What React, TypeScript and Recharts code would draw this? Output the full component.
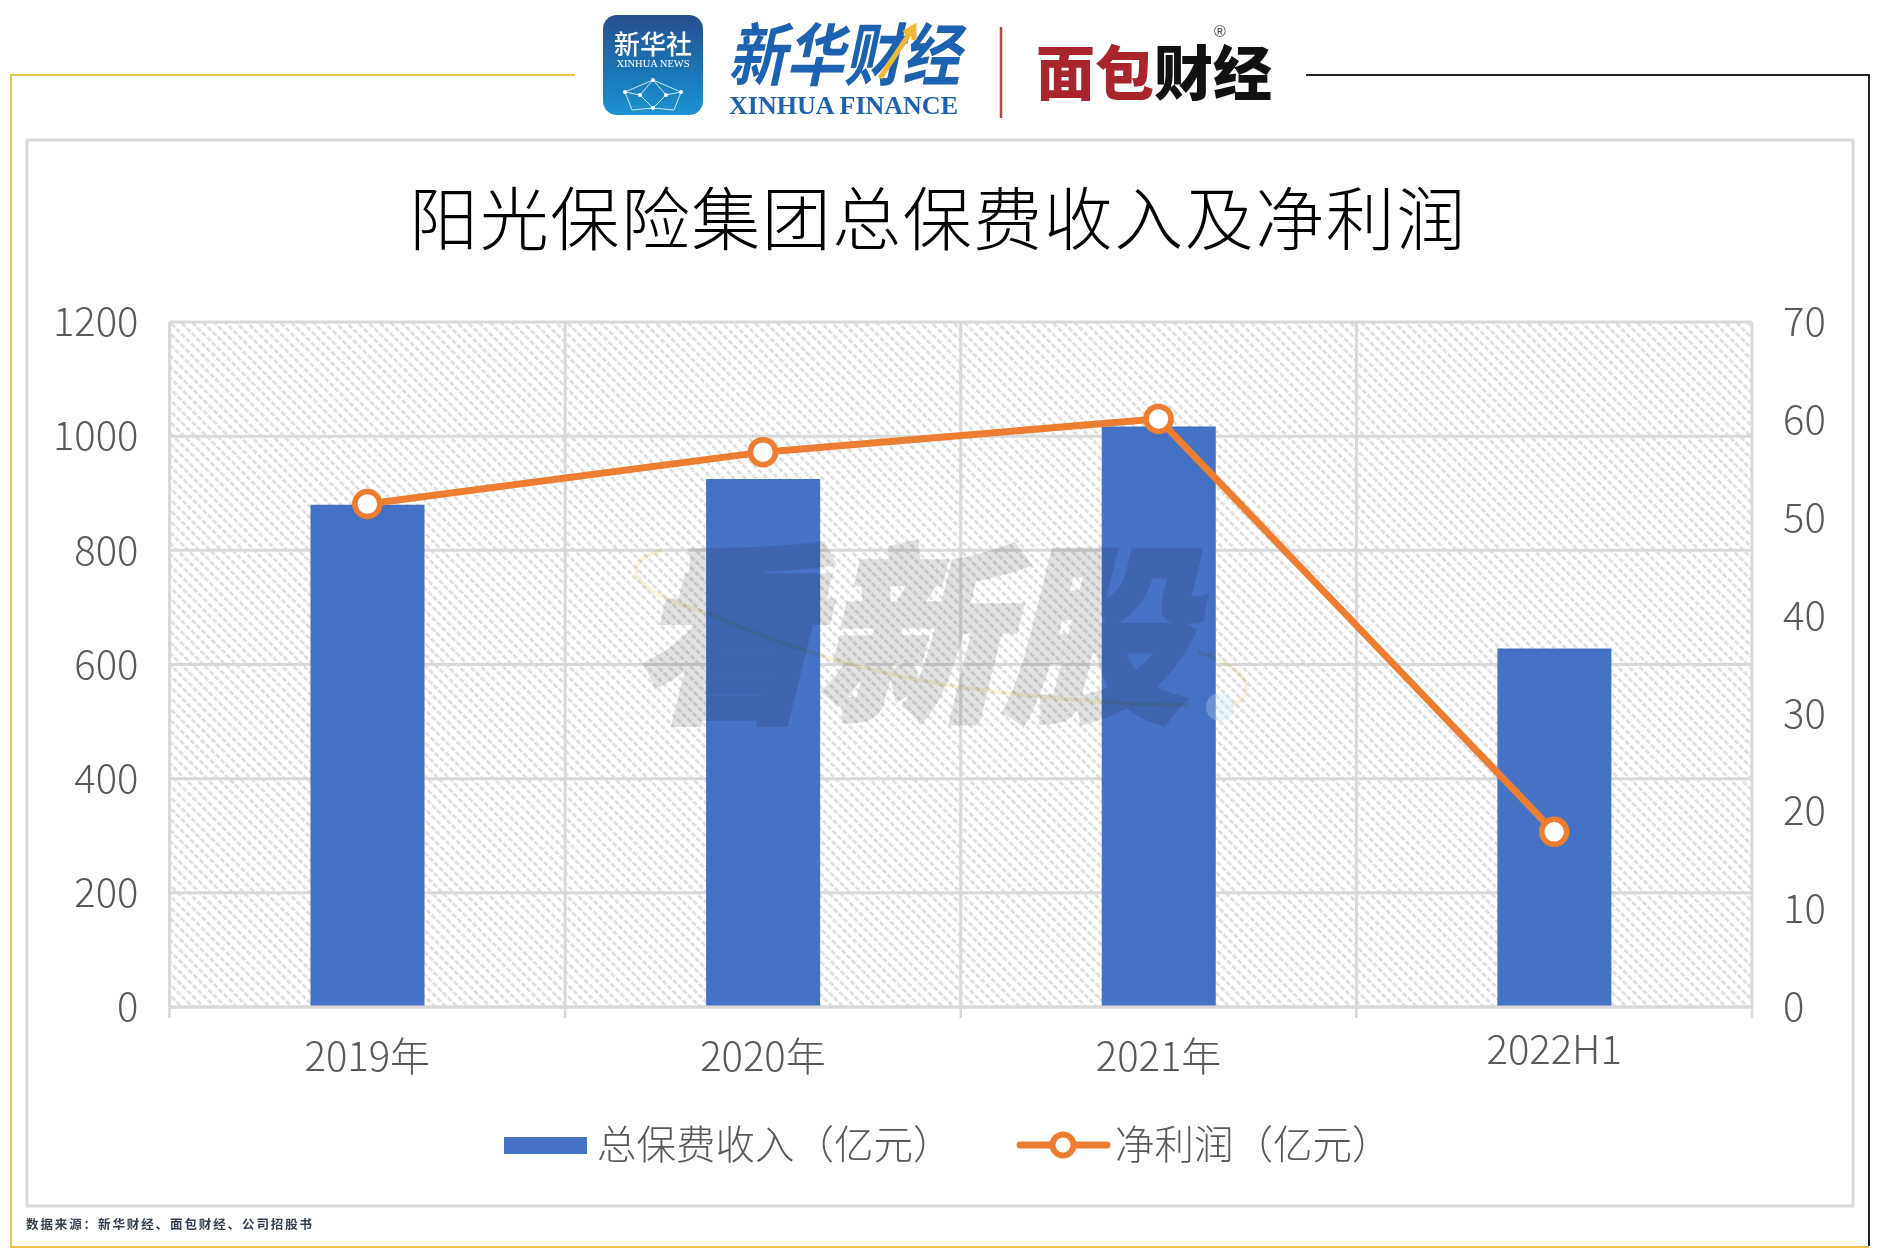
import React from "react";
import { ComposedChart, Bar, Line, XAxis, YAxis, CartesianGrid, Legend } from "recharts";

const categories = ["2019年", "2020年", "2021年", "2022H1"];
const premiumValues = [880, 925, 1017, 628];
const profitValues = [51.4, 56.7, 60.1, 17.9];
const leftTicks = [0, 200, 400, 600, 800, 1000, 1200];
const rightTicks = [0, 10, 20, 30, 40, 50, 60, 70];
const premiumName = "总保费收入（亿元）";
const profitName = "净利润（亿元）";
const titleText = "阳光保险集团总保费收入及净利润";
const sourceText = "数据来源：新华财经、面包财经、公司招股书";

const rows = categories.map((c, i) => ({ name: c, premium: premiumValues[i], profit: profitValues[i] }));

const W = 1880, H = 1258;
const PLOT_L = 169.5, PLOT_R = 1752, PLOT_T = 322, PLOT_B = 1007;
const BAND = (PLOT_R - PLOT_L) / categories.length;
const FONT = '"Noto Sans CJK SC", "Noto Sans", sans-serif';
const GREY = "#d9d9d9";
const TEXT = "#595959";
const BLUE = "#4472c4";
const ORANGE = "#ed7d31";

function XTick(props: any) {
  const { x, payload, index } = props;
  const isYear = String(payload.value).includes("年");
  return (
    <g>
      <line x1={x - BAND / 2} x2={x - BAND / 2} y1={PLOT_B} y2={PLOT_B + 11} stroke={GREY} strokeWidth={2.5} />
      {index === categories.length - 1 && (
        <line x1={x + BAND / 2} x2={x + BAND / 2} y1={PLOT_B} y2={PLOT_B + 11} stroke={GREY} strokeWidth={2.5} />
      )}
      <text x={x} y={isYear ? 1071 : 1064} textAnchor="middle" fontSize={40} fontFamily={FONT} fontWeight={300} fill={TEXT}>
        {payload.value}
      </text>
    </g>
  );
}

function LegendContent(props: any) {
  const items = props.payload || [];
  const bar = items.find((p: any) => p.dataKey === "premium");
  const line = items.find((p: any) => p.dataKey === "profit");
  const textStyle = { position: "absolute", top: -3, lineHeight: "50px", fontSize: 39.5, fontWeight: 300, fontFamily: FONT, color: TEXT, whiteSpace: "nowrap" } as any;
  return (
    <div style={{ position: "relative", width: W, height: 50 }}>
      <div style={{ position: "absolute", left: 504, top: 17, width: 83, height: 17, background: BLUE }} />
      <span style={{ ...textStyle, left: 597 }}>{bar ? bar.value : premiumName}</span>
      <svg style={{ position: "absolute", left: 1010, top: 0 }} width={110} height={50}>
        <line x1={10} x2={97} y1={25} y2={25} stroke={ORANGE} strokeWidth={7} strokeLinecap="round" />
        <circle cx={53} cy={25} r={10.5} fill="#fff" stroke={ORANGE} strokeWidth={6} />
      </svg>
      <span style={{ ...textStyle, left: 1115 }}>{line ? line.value : profitName}</span>
    </div>
  );
}

function Backdrop() {
  return (
    <svg width={W} height={H} style={{ position: "absolute", left: 0, top: 0 }}>
      <defs>
        <linearGradient id="badge" x1="0" y1="0" x2="0" y2="1">
          <stop offset="0" stopColor="#27508f" />
          <stop offset="0.6" stopColor="#1b78b8" />
          <stop offset="1" stopColor="#1c93d2" />
        </linearGradient>
      </defs>
      <polyline points="575,75 11,75 11,1247 1869,1247" fill="none" stroke="#efc24a" strokeWidth={2} />
      <polyline points="1306,75 1869,75 1869,1246" fill="none" stroke="#222" strokeWidth={2} />
      <rect x={27} y={140} width={1826} height={1066} fill="#fff" stroke={GREY} strokeWidth={3} />

      <rect x={603} y={15} width={100} height={100} rx={14} fill="url(#badge)" />
      <text x={653} y={54} textAnchor="middle" fontSize={26} fontFamily={FONT} fontWeight={500} fill="#fff">新华社</text>
      <text x={653} y={67} textAnchor="middle" fontSize={10.5} fontFamily='"Liberation Serif", serif' fill="#fff">XINHUA NEWS</text>
      <g stroke="#cfeaf8" strokeWidth={1} fill="none">
        <path d="M653 80 L625 92 L632 110 M653 80 L681 92 L674 110 M653 80 L640 95 L653 108 L666 95 L653 80 M625 92 L640 95 M681 92 L666 95 M632 110 L653 108 L674 110" />
      </g>
      <g fill="#fff">
        <circle cx={653} cy={80} r={2} /><circle cx={640} cy={95} r={2} /><circle cx={666} cy={95} r={2} />
        <circle cx={653} cy={108} r={2} /><circle cx={625} cy={92} r={2} /><circle cx={681} cy={92} r={2} />
      </g>

      <text x={728} y={80} fontSize={68} fontStyle="italic" fontFamily={FONT} fontWeight={700} fill="#1c62b0" textLength={232} lengthAdjust="spacingAndGlyphs">新华财经</text>
      <path d="M880 78 L912 30 M904 33 L914 27 L914 40" fill="none" stroke="#f0b93a" strokeWidth={5} />
      <text x={729} y={114} fontSize={26} fontFamily='"Liberation Serif", serif' fontWeight={700} fill="#1c62b0" textLength={229} lengthAdjust="spacingAndGlyphs">XINHUA FINANCE</text>
      <line x1={1001} x2={1001} y1={27} y2={118} stroke="#b5473f" strokeWidth={2.5} />
      <text x={1036} y={95} fontSize={59} fontFamily={FONT} fontWeight={900}>
        <tspan fill="#a8262b">面包</tspan>
        <tspan fill="#111">财经</tspan>
      </text>
      <text x={1220} y={37} textAnchor="middle" fontSize={16} fontFamily='"Liberation Sans", sans-serif' fill="#444">®</text>

      <text x={938} y={245} textAnchor="middle" fontSize={69} letterSpacing={1.5} fontFamily={FONT} fontWeight={300} fill="#000">{titleText}</text>
      <text x={26} y={1229} fontSize={12.5} letterSpacing={1.9} fontFamily={FONT} fontWeight={700} fill="#333f50">{sourceText}</text>
    </svg>
  );
}

function Watermark() {
  return (
    <svg width={W} height={H} style={{ position: "absolute", left: 0, top: 0, pointerEvents: "none" }}>
      <g opacity={0.11}>
        <text
          x={0}
          y={0}
          transform="translate(632 706) skewX(-14)"
          fontSize={190}
          fontWeight={900}
          fontFamily={FONT}
          fill="#000"
          stroke="#000"
          strokeWidth={5}
          textLength={555}
          lengthAdjust="spacingAndGlyphs"
        >
          看新股
        </text>
      </g>
      <g style={{ mixBlendMode: "multiply" }} opacity={0.5}>
        <path d="M662 551 C620 560 625 590 707 613 C780 645 880 680 1000 692 C1090 703 1150 705 1189 705" fill="none" stroke="#f5e9bb" strokeWidth={4} />
        <path d="M1198 652 C1240 665 1265 690 1230 707" fill="none" stroke="#f5e9bb" strokeWidth={4} />
      </g>
      <circle cx={1220} cy={707} r={14} fill="#bfe3f5" fillOpacity={0.3} />
    </svg>
  );
}

export default function App() {
  return (
    <div style={{ position: "absolute", left: 0, top: 0, width: W, height: H, background: "#fff", overflow: "hidden" }}>
      <Backdrop />
      <div style={{ position: "absolute", left: 0, top: 0 }}>
        <ComposedChart
          width={W}
          height={H}
          data={rows}
          margin={{ top: PLOT_T, right: 0, left: 0, bottom: 0 }}
        >
          <defs>
            <pattern id="hatch" width="7.8" height="7" patternUnits="userSpaceOnUse" patternTransform="rotate(-45)">
              <rect width="7.8" height="7" fill="#fff" />
              <rect x="0" y="0" width="2.8" height="5.2" fill="#dedede" />
            </pattern>
          </defs>
          <CartesianGrid
            yAxisId="left"
            fill="url(#hatch)"
            stroke={GREY}
            strokeWidth={3}
            verticalCoordinatesGenerator={({ offset }: any) =>
              [0, 1, 2, 3, 4].map((i) => offset.left + (i * offset.width) / 4)
            }
          />
          <XAxis
            dataKey="name"
            height={H - PLOT_B - 50}
            axisLine={{ stroke: GREY, strokeWidth: 3 }}
            tickLine={false}
            tick={XTick}
            interval={0}
          />
          <YAxis
            yAxisId="left"
            orientation="left"
            width={PLOT_L}
            domain={[0, 1200]}
            ticks={leftTicks}
            axisLine={false}
            tickLine={false}
            tickMargin={31}
            tickSize={0}
            tick={{ fontSize: 40, fontFamily: FONT, fontWeight: 300, fill: TEXT }}
          />
          <YAxis
            yAxisId="right"
            orientation="right"
            width={W - PLOT_R}
            domain={[0, 70]}
            ticks={rightTicks}
            axisLine={false}
            tickLine={false}
            tickMargin={31}
            tickSize={0}
            tick={{ fontSize: 40, fontFamily: FONT, fontWeight: 300, fill: TEXT }}
          />
          <Legend
            verticalAlign="bottom"
            height={60}
            content={LegendContent}
            wrapperStyle={{ position: "absolute", left: 0, top: 1120, width: W, height: 50 }}
          />
          <Bar yAxisId="left" dataKey="premium" name={premiumName} fill={BLUE} barSize={114} isAnimationActive={false} />
          <Line
            yAxisId="right"
            dataKey="profit"
            name={profitName}
            type="linear"
            stroke={ORANGE}
            strokeWidth={7}
            dot={{ r: 12.5, fill: "#fff", stroke: ORANGE, strokeWidth: 5.5 }}
            activeDot={false}
            isAnimationActive={false}
          />
        </ComposedChart>
      </div>
      <Watermark />
    </div>
  );
}
